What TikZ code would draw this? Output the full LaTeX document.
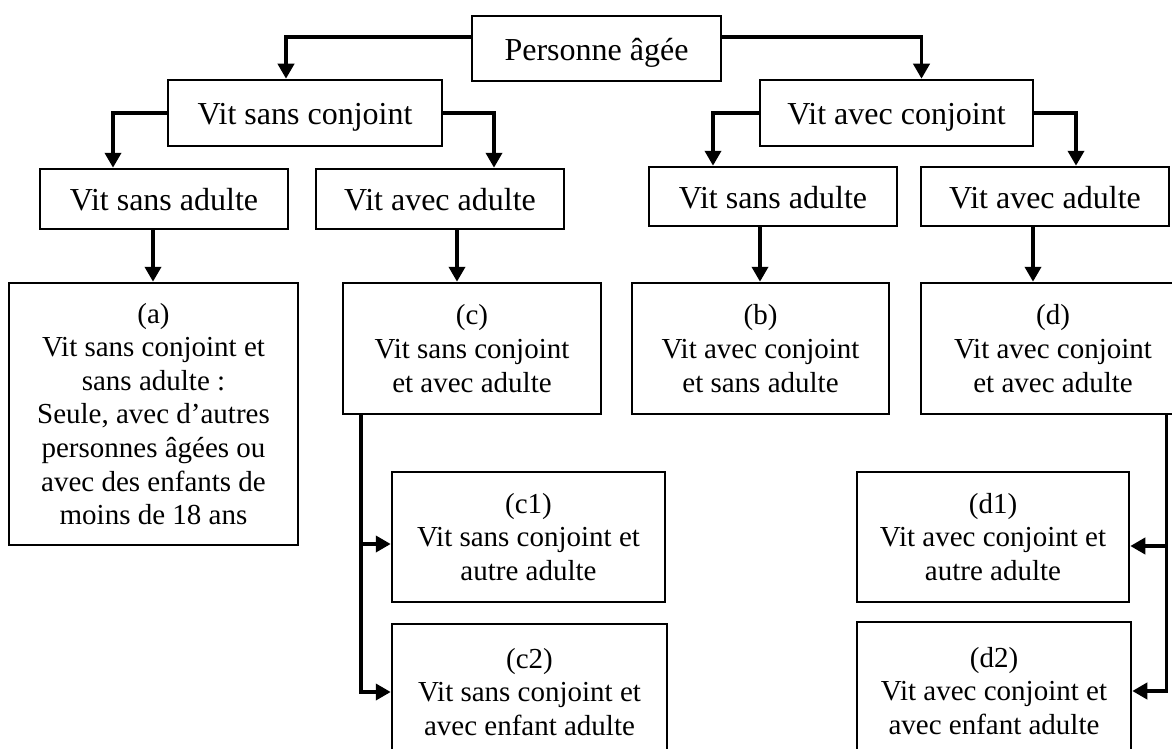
\documentclass[tikz,border=0pt]{standalone}
\usepackage{fontspec}
\setmainfont{Liberation Serif}
\usetikzlibrary{arrows.meta}
\begin{document}
\begin{tikzpicture}[x=1pt,y=-1pt,
  box/.style={draw, line width=2.5pt, inner sep=0pt, align=center},
  head/.style={box, font=\fontsize{32}{37}\selectfont, text height=26pt, text depth=2.8pt},
  leaf/.style={box, font=\fontsize{29}{33.6}\selectfont, execute at begin node={\rule{0pt}{25pt}}},
  conn/.style={line width=3.8pt, -{Triangle[length=15pt,width=16pt]}}]
\useasboundingbox (0,0) rectangle (1172,749);
\clip (0,0) rectangle (1172,749);
\fill[white] (0,0) rectangle (1172,749);
% level boxes
\node[head, minimum width=249pt, minimum height=65pt] (P) at (596.5,48.5) {Personne âgée};
\node[head, minimum width=274pt, minimum height=66pt] (SC) at (305,113) {Vit sans conjoint};
\node[head, minimum width=273pt, minimum height=66pt] (AC) at (896.5,113) {Vit avec conjoint};
\node[head, minimum width=248pt, minimum height=60pt] (LSA) at (164,199) {Vit sans adulte};
\node[head, minimum width=248pt, minimum height=60pt] (LAA) at (440,199) {Vit avec adulte};
\node[head, minimum width=248pt, minimum height=59pt] (RSA) at (773,196.5) {Vit sans adulte};
\node[head, minimum width=248pt, minimum height=59pt] (RAA) at (1045,196.5) {Vit avec adulte};
% leaf boxes
\node[leaf, minimum width=289pt, minimum height=262pt] (a) at (153.5,414) {(a)\\Vit sans conjoint et\\sans adulte :\\Seule, avec d’autres\\personnes âgées ou\\avec des enfants de\\moins de 18 ans};
\node[leaf, minimum width=258pt, minimum height=131pt] (c) at (472,348.5) {(c)\\Vit sans conjoint\\et avec adulte};
\node[leaf, minimum width=257pt, minimum height=131pt] (b) at (760.5,348.5) {(b)\\Vit avec conjoint\\et sans adulte};
\node[leaf, minimum width=264pt, minimum height=131pt] (d) at (1053,348.5) {(d)\\Vit avec conjoint\\et avec adulte};
\node[leaf, minimum width=273pt, minimum height=130pt] (c1) at (528.5,537) {(c1)\\Vit sans conjoint et\\autre adulte};
\node[leaf, minimum width=275pt, minimum height=136pt] (c2) at (529.5,692) {(c2)\\Vit sans conjoint et\\avec enfant adulte};
\node[leaf, minimum width=272pt, minimum height=130pt] (d1) at (993,537) {(d1)\\Vit avec conjoint et\\autre adulte};
\node[leaf, minimum width=274pt, minimum height=138pt] (d2) at (994,691) {(d2)\\Vit avec conjoint et\\avec enfant adulte};
% connectors
\draw[conn] ([yshift=11.5pt]P.west) -| ([xshift=-19pt]SC.north);
\draw[conn] ([yshift=11.5pt]P.east) -| ([xshift=25pt]AC.north);
\draw[conn] (SC.west) -| ([xshift=-51pt]LSA.north);
\draw[conn] (SC.east) -| ([xshift=54pt]LAA.north);
\draw[conn] (AC.west) -| ([xshift=-60pt]RSA.north);
\draw[conn] (AC.east) -| ([xshift=31pt]RAA.north);
\draw[conn] ([xshift=-11pt]LSA.south) -- ([xshift=-11pt]LSA.south |- a.north);
\draw[conn] ([xshift=17pt]LAA.south) -- ([xshift=17pt]LAA.south |- c.north);
\draw[conn] ([xshift=-13pt]RSA.south) -- ([xshift=-13pt]RSA.south |- b.north);
\draw[conn] ([xshift=-12pt]RAA.south) -- ([xshift=-12pt]RAA.south |- d.north);
\coordinate (cs) at ([xshift=19pt]c.south west);
\draw[conn] (cs) |- ([yshift=-7pt]c1.west);
\draw[conn] (cs) |- (c2.west);
\coordinate (ds) at ([xshift=113.5pt]d.south);
\draw[conn] (ds) |- ([yshift=-9pt]d1.east);
\draw[conn] (ds) |- (d2.east);
\end{tikzpicture}
\end{document}
